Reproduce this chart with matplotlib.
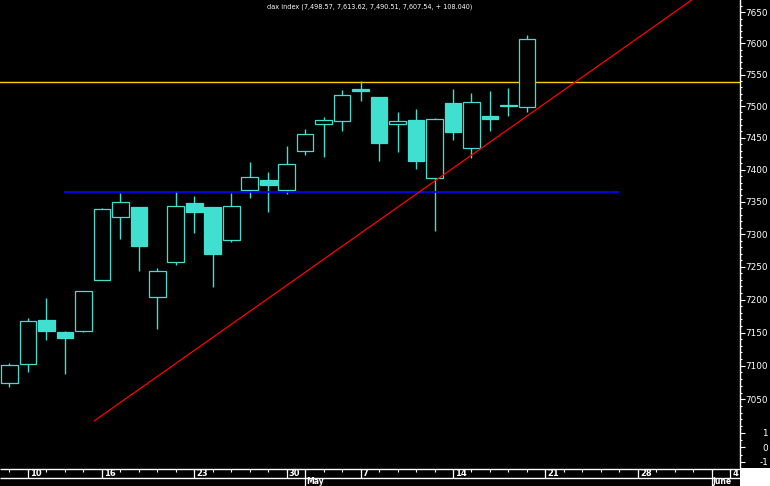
import datetime as dt
import matplotlib
matplotlib.use("Agg")
import matplotlib.pyplot as plt
from matplotlib import font_manager
from matplotlib.patches import Rectangle
from matplotlib.ticker import FixedLocator, FuncFormatter, NullFormatter

# ---------------- data ----------------
candle_dates = ["2007-04-05", "2007-04-10", "2007-04-11", "2007-04-12", "2007-04-13",
                "2007-04-16", "2007-04-17", "2007-04-18", "2007-04-19", "2007-04-20",
                "2007-04-23", "2007-04-24", "2007-04-25", "2007-04-26", "2007-04-27",
                "2007-04-30", "2007-05-02", "2007-05-03", "2007-05-04", "2007-05-07",
                "2007-05-08", "2007-05-09", "2007-05-10", "2007-05-11", "2007-05-14",
                "2007-05-15", "2007-05-16", "2007-05-17", "2007-05-18"]
future_dates = ["2007-05-21", "2007-05-22", "2007-05-23", "2007-05-24", "2007-05-25",
                "2007-05-28", "2007-05-29", "2007-05-30", "2007-05-31", "2007-06-01",
                "2007-06-04"]

opens = [7073.8, 7102.2, 7168.5, 7150.4, 7152.8, 7229.3, 7327.0, 7342.0, 7204.3, 7257.7,
         7348.2, 7342.0, 7291.5, 7368.9, 7384.0, 7368.9, 7429.8, 7472.2, 7477.0, 7527.2,
         7514.5, 7472.2, 7478.1, 7386.6, 7504.9, 7433.5, 7484.4, 7501.8, 7498.57]
highs = [7104.2, 7172.0, 7202.3, 7151.9, 7212.5, 7340.0, 7364.2, 7342.5, 7248.1, 7366.8,
         7359.1, 7342.5, 7364.2, 7412.1, 7396.4, 7437.1, 7463.9, 7482.8, 7525.6, 7539.9,
         7514.5, 7490.7, 7495.4, 7480.7, 7527.2, 7520.8, 7524.0, 7528.7, 7613.62]
lows = [7068.7, 7091.2, 7139.2, 7088.2, 7151.3, 7229.3, 7293.0, 7243.9, 7155.8, 7253.1,
        7301.8, 7219.1, 7288.0, 7356.4, 7334.3, 7362.6, 7423.0, 7419.9, 7461.2, 7508.6,
        7414.1, 7427.7, 7401.6, 7305.4, 7447.0, 7418.8, 7461.2, 7484.8, 7490.51]
closes = [7100.7, 7167.0, 7152.8, 7142.2, 7212.5, 7338.4, 7349.3, 7281.8, 7243.0, 7343.5,
          7334.3, 7269.5, 7343.5, 7388.2, 7376.2, 7408.5, 7455.5, 7477.6, 7517.2, 7524.0,
          7442.3, 7476.5, 7414.1, 7479.2, 7459.6, 7506.0, 7480.1, 7499.5, 7607.54]

title_text = "dax index (7,498.57, 7,613.62, 7,490.51, 7,607.54, + 108.040)"

price_ticks = list(range(7050, 7651, 50))
price_minor = list(range(7010, 7670, 10))
ind_ticks = [1, 0, -1]
ind_minor = [0.5, -0.5]

resistance_level = 7538.0          # orange horizontal
support_level = 7365.0             # blue horizontal
support_days = [2.95, 32.98]       # span in trading-day units
trend_days = [4.59, 36.92]         # red trend line
trend_prices = [7018.0, 7670.0]

# ---------------- style ----------------
names = {f.name for f in font_manager.fontManager.ttflist}
FONT = "Liberation Sans Narrow" if "Liberation Sans Narrow" in names else "DejaVu Sans"
TURQ = "#40e0d0"
W, H = 770, 486
PX = 72.0 / 100.0  # points per pixel

fig = plt.figure(figsize=(W / 100, H / 100), dpi=100, facecolor="black")

all_dates = [dt.date.fromisoformat(d) for d in candle_dates + future_dates]
xlim = (-0.514, 39.53)

price_bottom_px, ind_bottom_px = 429, 468
ax = fig.add_axes([0, (H - price_bottom_px) / H, 740 / W, price_bottom_px / H])
ax_ind = fig.add_axes([0, (H - ind_bottom_px) / H, 740 / W, (ind_bottom_px - price_bottom_px) / H])
ax_d = fig.add_axes([0, 0, 740 / W, (H - ind_bottom_px) / H])

for a in (ax, ax_ind, ax_d):
    a.set_facecolor("black")
    a.set_xlim(*xlim)
    for s in a.spines.values():
        s.set_visible(False)
    a.set_xticks([])

# price axis
ax.set_yscale("log")
ax.set_ylim(7005.9, 7669.9)
ax.yaxis.set_major_locator(FixedLocator(price_ticks))
ax.yaxis.set_minor_locator(FixedLocator(price_minor))
ax.yaxis.set_major_formatter(FuncFormatter(lambda v, p: "%d" % round(v)))
ax.yaxis.set_minor_formatter(NullFormatter())

ax_ind.set_ylim(-1.428, 1.262)
ax_ind.yaxis.set_major_locator(FixedLocator(ind_ticks))
ax_ind.yaxis.set_minor_locator(FixedLocator(ind_minor))
ax_ind.yaxis.set_major_formatter(FuncFormatter(lambda v, p: "%d" % round(v)))

for a in (ax, ax_ind):
    a.spines["right"].set_visible(True)
    a.spines["right"].set_color("white")
    a.spines["right"].set_linewidth(1.0)
    a.yaxis.tick_right()
    a.tick_params(axis="y", which="major", length=5 * PX, width=0.8,
                  colors="white", labelsize=6.4, pad=23 * PX)
    a.tick_params(axis="y", which="minor", length=2.5 * PX, width=0.8, colors="white")
    for t in a.yaxis.get_major_ticks():
        t.label2.set_horizontalalignment("right")
        t.label2.set_fontfamily(FONT)

# candles
bw = 0.9
for i, (o, h, l, c) in enumerate(zip(opens, highs, lows, closes)):
    top, bot = max(o, c), min(o, c)
    ax.vlines(i, top, h, color=TURQ, lw=1.0, zorder=2)
    ax.vlines(i, l, bot, color=TURQ, lw=1.0, zorder=2)
    if c >= o:
        ax.add_patch(Rectangle((i - bw / 2, bot), bw, top - bot, facecolor="black",
                               edgecolor=TURQ, lw=0.9, zorder=3))
    else:
        ax.add_patch(Rectangle((i - bw / 2, bot), bw, top - bot, facecolor=TURQ,
                               edgecolor=TURQ, lw=0.9, zorder=3))

# reference lines
ax.axhline(resistance_level, color="#ffcc00", lw=1.0, zorder=1)
ax.hlines(support_level, support_days[0], support_days[1], color="#0000ff", lw=1.2, zorder=4)
ax.plot(trend_days, trend_prices, color="#ff0000", lw=0.9, zorder=5)

# date strip
ax_d.set_ylim(18, 0)
ax_d.set_yticks([])
ax_d.hlines([0.5, 9.5], xlim[0], xlim[1], color="white", lw=1.0, clip_on=False)
prev = None
for i, d in enumerate(all_dates):
    ax_d.vlines(i, 0.5, 4.0, color="white", lw=0.8)
    new_month = prev is not None and d.month != prev.month
    new_week = prev is not None and d.isocalendar()[1] != prev.isocalendar()[1]
    if new_month:
        ax_d.vlines(i, 0.5, 18, color="white", lw=0.9)
        ax_d.text(i + 0.05, 13.6, d.strftime("%B") if d.month == 6 else d.strftime("%b"),
                  color="white", fontsize=5.5, family=FONT, ha="left", va="center",
                  fontweight="bold")
    if new_week:
        ax_d.vlines(i, 0.5, 9.5, color="white", lw=0.9)
        ax_d.text(i + 0.12, 5.0, str(d.day), color="white", fontsize=6, family=FONT,
                  ha="left", va="center", fontweight="bold")
    prev = d

fig.patches.append(Rectangle((740 / W, 0), 30 / W, (H - ind_bottom_px) / H,
                             transform=fig.transFigure, facecolor="white",
                             edgecolor="none", zorder=10))

fig.text(370 / W, 1 - 6.5 / H, title_text, color="white", fontsize=4.7, family=FONT,
         ha="center", va="center")

fig.savefig("out.png", dpi=100, facecolor="black")
